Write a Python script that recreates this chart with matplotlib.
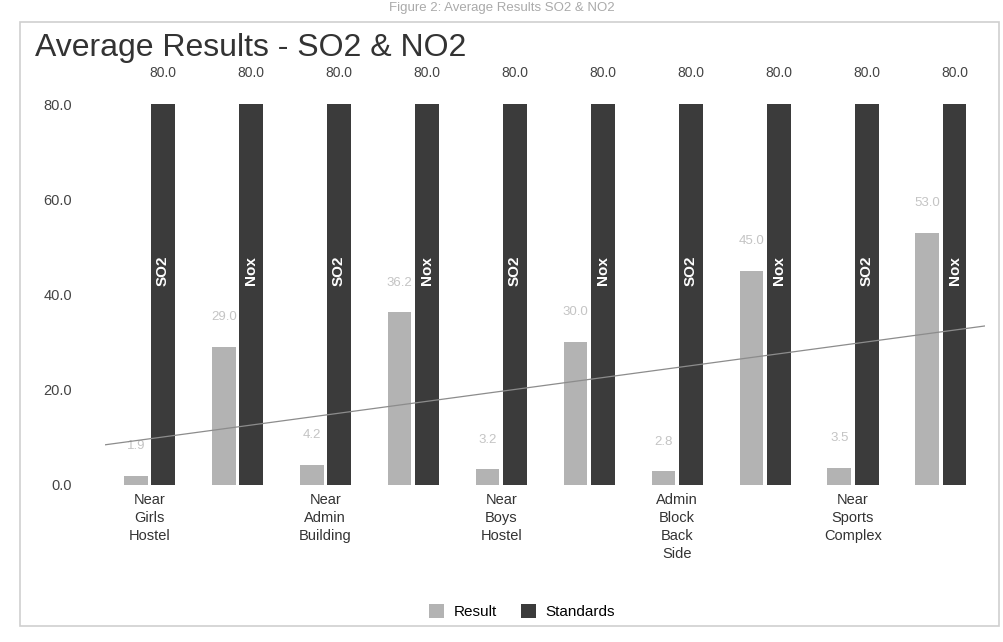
import numpy as np
import matplotlib
matplotlib.use("Agg")
import matplotlib.pyplot as plt
from matplotlib.patches import Rectangle

plt.rcParams['font.family'] = ['Liberation Sans', 'DejaVu Sans']

# Sampling locations (each measured for SO2 and NOx)
locations = ["Near\nGirls\nHostel", "Near\nAdmin\nBuilding", "Near\nBoys\nHostel",
             "Admin\nBlock\nBack\nSide", "Near\nSports\nComplex"]
pollutants = ["SO2", "Nox", "SO2", "Nox", "SO2", "Nox", "SO2", "Nox", "SO2", "Nox"]
result = [1.9, 29.0, 4.2, 36.2, 3.2, 30.0, 2.8, 45.0, 3.5, 53.0]
standards = [80.0] * 10

res_color = "#b3b3b3"
std_color = "#3b3b3b"

fig = plt.figure(figsize=(10.04, 6.42), dpi=100)
ax = fig.add_axes([0.105, 0.245, 0.876, 0.63])

x = np.arange(len(result))
w = 0.27
off = 0.155
b1 = ax.bar(x - off, result, w, color=res_color, label="Result", zorder=2)
b2 = ax.bar(x + off, standards, w, color=std_color, label="Standards", zorder=2)

# Value labels
for xi, v in zip(x, result):
    ax.text(xi - off, v + 5, f"{v:.1f}", ha="center", va="bottom",
            fontsize=9.5, color="#c4c4c4")
for xi, v in zip(x, standards):
    ax.text(xi + off, v + 5, f"{v:.1f}", ha="center", va="bottom",
            fontsize=10, color="#444444")

# Pollutant name inside each standards bar
for xi, p in zip(x, pollutants):
    ax.text(xi + off, 45, p, rotation=90, ha="center", va="center",
            fontsize=11, color="white", fontweight="bold")

# Linear trend of the results
coef = np.polyfit(x, result, 1)
xt = np.array([-0.5, 9.5])
ax.plot(xt, np.polyval(coef, xt), color="#8c8c8c", lw=0.9, zorder=3)

ax.set_xlim(-0.5, 9.5)
ax.set_ylim(0, 85)
ax.set_yticks([0, 20, 40, 60, 80])
ax.set_yticklabels([f"{t:.1f}" for t in [0, 20, 40, 60, 80]], fontsize=10.5, color="#444444")
ax.tick_params(axis="y", length=0, pad=24)
ax.set_xticks(x[::2])
ax.set_xticklabels(locations, fontsize=10.5, color="#333333", linespacing=1.35, va="top")
ax.tick_params(axis="x", length=0, pad=6)
for s in ax.spines.values():
    s.set_visible(False)

fig.text(0.035, 0.925, "Average Results - SO2 & NO2", fontsize=23, color="#333333",
         ha="left", va="center")
fig.text(0.5, 0.988, "Figure 2: Average Results SO2 & NO2", fontsize=9.5,
         color="#aaaaaa", ha="center", va="center")

# Chart border
fig.patches.append(Rectangle((0.02, 0.025), 0.975, 0.94, transform=fig.transFigure,
                             fill=False, edgecolor="#cfcfcf", lw=1.2))

fig.legend(handles=[b1, b2], labels=["Result", "Standards"], loc="center",
           bbox_to_anchor=(0.52, 0.047), ncol=2, frameon=False, fontsize=11,
           handlelength=1.0, handleheight=1.0, columnspacing=1.6, handletextpad=0.6)

fig.savefig("out.png", dpi=100, facecolor="white")
